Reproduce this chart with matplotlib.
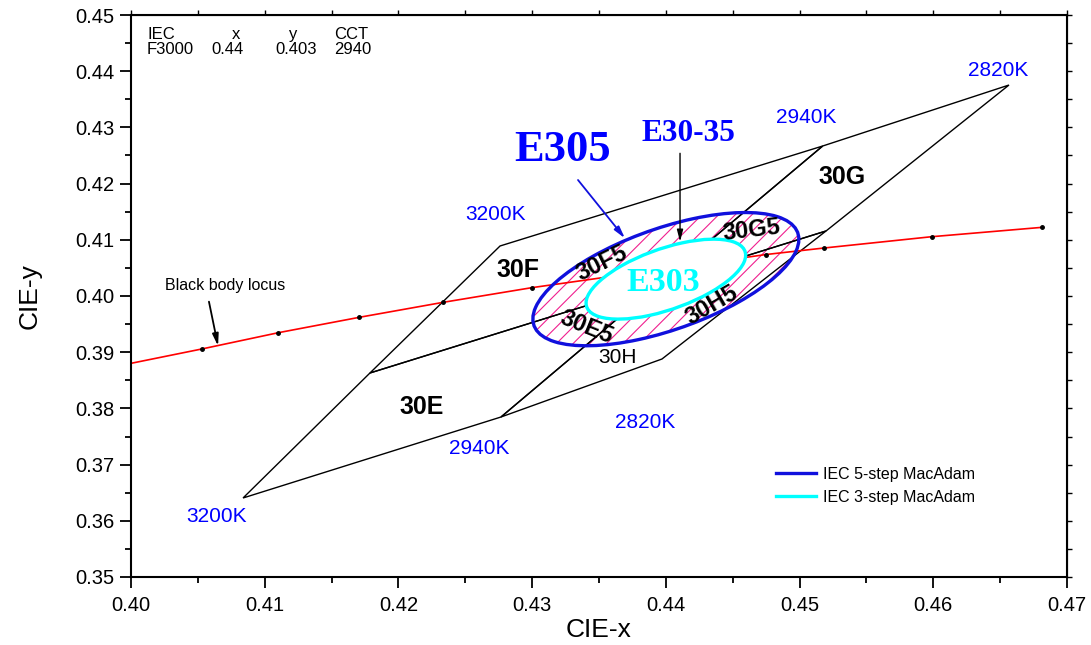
import matplotlib
matplotlib.use('Agg')
import matplotlib.pyplot as plt
from matplotlib.patches import Ellipse, Polygon
from matplotlib.lines import Line2D
from matplotlib.ticker import MultipleLocator, FormatStrFormatter, NullFormatter

plt.rcParams['font.family'] = ['Liberation Sans', 'DejaVu Sans']
plt.rcParams['hatch.linewidth'] = 0.8

# ---- data ----
# Black body locus (line) and its marked points
bb_line_x = [0.4000, 0.40529, 0.41102, 0.41708, 0.42336, 0.42997, 0.44749, 0.45183, 0.45988, 0.46815]
bb_line_y = [0.38802, 0.39057, 0.39347, 0.39621, 0.39888, 0.40148, 0.40738, 0.40854, 0.41055, 0.41222]
bb_dot_x = [0.40529, 0.41102, 0.41708, 0.42336, 0.42997, 0.44749, 0.45183, 0.45988, 0.46815]
bb_dot_y = [0.39057, 0.39347, 0.39621, 0.39888, 0.40148, 0.40738, 0.40854, 0.41055, 0.41222]

# Quadrangle vertices (CIE x, y)
vertices = {
    '3200b': (0.40838, 0.36406),
    '3200m': (0.41787, 0.38630),
    '3200t': (0.42760, 0.40890),
    '2940t': (0.45173, 0.42669),
    '2820t': (0.46566, 0.43754),
    '2820m': (0.45198, 0.41157),
    '2820b': (0.43971, 0.38879),
    '2940b': (0.42767, 0.37847),
    'c':     (0.43956, 0.40235),
}
quads = {
    '30E': ['3200b', '2940b', 'c', '3200m'],
    '30F': ['3200m', 'c', '2940t', '3200t'],
    '30G': ['c', '2820m', '2820t', '2940t'],
    '30H': ['2940b', '2820b', '2820m', 'c'],
}

# MacAdam ellipse (F3000) one-step parameters
ell_x0, ell_y0 = 0.440, 0.403
ell_a, ell_b, ell_theta = 0.00278, 0.00136, 53.22
steps_outer, steps_inner = 5, 3

# labels
k_labels = [('2820K', 0.46488, 0.44009), ('2940K', 0.45053, 0.43180), ('3200K', 0.42730, 0.41459),
            ('3200K', 0.40641, 0.36073), ('2940K', 0.42603, 0.37290), ('2820K', 0.43844, 0.37758)]
quad_labels = [('30E', 0.42176, 0.38030), ('30F', 0.42894, 0.40463), ('30G', 0.45317, 0.42123)]
sub_labels = [('30F5', 0.43522, 0.40587, 26), ('30E5', 0.43410, 0.39448, -22),
              ('30H5', 0.44345, 0.39840, 30), ('30G5', 0.44644, 0.41174, 6.5)]

table_header = ['IEC', 'x', 'y', 'CCT']
table_row = ['F3000', '0.44', '0.403', '2940']

# ---- figure ----
fig = plt.figure(figsize=(10.91, 6.45), dpi=100)
ax = fig.add_axes([131/1091, 68/645, 936/1091, 562/645])
ax.set_xlim(0.40, 0.47)
ax.set_ylim(0.35, 0.45)

# hatched outer ellipse
hatch_ell = Ellipse((ell_x0, ell_y0), 2*steps_outer*ell_a, 2*steps_outer*ell_b, angle=ell_theta,
                    facecolor='none', edgecolor='#F0208F', hatch='//', linewidth=0, zorder=1)
ax.add_patch(hatch_ell)

for name, vs in quads.items():
    pts = [vertices[v] for v in vs]
    ax.add_patch(Polygon(pts, closed=True, fill=False, edgecolor='black', linewidth=1.0, zorder=2))

ax.plot(bb_line_x, bb_line_y, color='red', lw=1.2, zorder=2.5)
ax.plot(bb_dot_x, bb_dot_y, 'o', color='black', ms=2.5, zorder=2.6)

inner = Ellipse((ell_x0, ell_y0), 2*steps_inner*ell_a, 2*steps_inner*ell_b, angle=ell_theta,
                facecolor='white', edgecolor='cyan', linewidth=2.4, zorder=3)
ax.add_patch(inner)
outer = Ellipse((ell_x0, ell_y0), 2*steps_outer*ell_a, 2*steps_outer*ell_b, angle=ell_theta,
                facecolor='none', edgecolor='#1010DD', linewidth=2.4, zorder=3.5)
ax.add_patch(outer)

for t, x, y in k_labels:
    ax.text(x, y, t, color='#0000FF', fontsize=15, ha='center', va='center', zorder=5)
for t, x, y in quad_labels:
    ax.text(x, y, t, color='black', fontsize=18, fontweight='bold', ha='center', va='center', zorder=5)
ax.text(0.43635, 0.38897, '30H', color='black', fontsize=15, ha='center', va='center', zorder=5)
for t, x, y, r in sub_labels:
    ax.text(x, y, t, color='black', fontsize=17, fontweight='bold', ha='center', va='center',
            rotation=r, rotation_mode='anchor', zorder=5)

serif = ['Liberation Serif', 'DejaVu Serif']
ax.text(0.43231, 0.42598, 'E305', color='#0000FF', fontsize=32, fontweight='bold', family=serif,
        ha='center', va='center', zorder=5)
ax.text(0.44166, 0.42900, 'E30-35', color='#0000FF', fontsize=22.5, fontweight='bold', family=serif,
        ha='center', va='center', zorder=5)
ax.text(0.43979, 0.40249, 'E303', color='cyan', fontsize=24.5, fontweight='bold', family=serif,
        ha='center', va='center', zorder=5)

# arrows
ax.annotate('', xy=(0.40651, 0.39110), xytext=(0.40583, 0.39899),
            arrowprops=dict(arrowstyle='-|>,head_length=0.7,head_width=0.18', color='black', lw=1.3,
                            shrinkA=0, shrinkB=0), zorder=5)
ax.text(0.40703, 0.40178, 'Black body locus', fontsize=11.5, ha='center', va='center', zorder=5)
ax.annotate('', xy=(0.43694, 0.41027), xytext=(0.43343, 0.42064),
            arrowprops=dict(arrowstyle='-|>,head_length=0.7,head_width=0.18', color='#1010DD', lw=1.3,
                            shrinkA=0, shrinkB=0), zorder=5)
ax.annotate('', xy=(0.44106, 0.40966), xytext=(0.44106, 0.42539),
            arrowprops=dict(arrowstyle='-|>,head_length=0.7,head_width=0.18', color='black', lw=1.0,
                            shrinkA=0, shrinkB=0), zorder=5)

# table text
head_pos = [(0.0171, 'left'), (0.1122, 'center'), (0.1731, 'center'), (0.2169, 'left')]
row_pos = [0.0171, 0.0862, 0.1538, 0.2169]
for (hx, ha), txt in zip(head_pos, table_header):
    ax.text(hx, 0.9650, txt, transform=ax.transAxes, fontsize=12, ha=ha, va='center')
for rx, txt in zip(row_pos, table_row):
    ax.text(rx, 0.9395, txt, transform=ax.transAxes, fontsize=12, ha='left', va='center')

# legend
handles = [Line2D([], [], color='#1010DD', lw=2.4), Line2D([], [], color='cyan', lw=2.4)]
ax.legend(handles, ['IEC 5-step MacAdam', 'IEC 3-step MacAdam'], loc='upper left',
          bbox_to_anchor=(0.689, 0.196), frameon=False, fontsize=11.5, borderaxespad=0, borderpad=0,
          handlelength=2.5, handletextpad=0.45, labelspacing=0.5)

# axes styling
ax.xaxis.set_major_locator(MultipleLocator(0.01))
ax.xaxis.set_minor_locator(MultipleLocator(0.005))
ax.yaxis.set_major_locator(MultipleLocator(0.01))
ax.yaxis.set_minor_locator(MultipleLocator(0.005))
ax.xaxis.set_major_formatter(FormatStrFormatter('%.2f'))
ax.yaxis.set_major_formatter(FormatStrFormatter('%.2f'))
ax.tick_params(which='major', direction='out', length=8, width=1.3, labelsize=14.5, pad=4)
ax.tick_params(which='minor', direction='out', length=4.5, width=1.3)
ax.tick_params(axis='x', which='major', pad=6)

# short ticks on top and right (no labels)
secx = ax.secondary_xaxis('top')
secx.xaxis.set_major_locator(MultipleLocator(0.005))
secx.xaxis.set_major_formatter(NullFormatter())
secx.tick_params(which='both', direction='out', length=3.5, width=1.0)
secy = ax.secondary_yaxis('right')
secy.yaxis.set_major_locator(MultipleLocator(0.005))
secy.yaxis.set_major_formatter(NullFormatter())
secy.tick_params(which='both', direction='out', length=3.5, width=1.0)

for s in ax.spines.values():
    s.set_linewidth(1.5)
ax.set_xlabel('CIE-x', fontsize=19, labelpad=2)
ax.set_ylabel('CIE-y', fontsize=19, labelpad=24)

fig.savefig('out.png', dpi=100)
